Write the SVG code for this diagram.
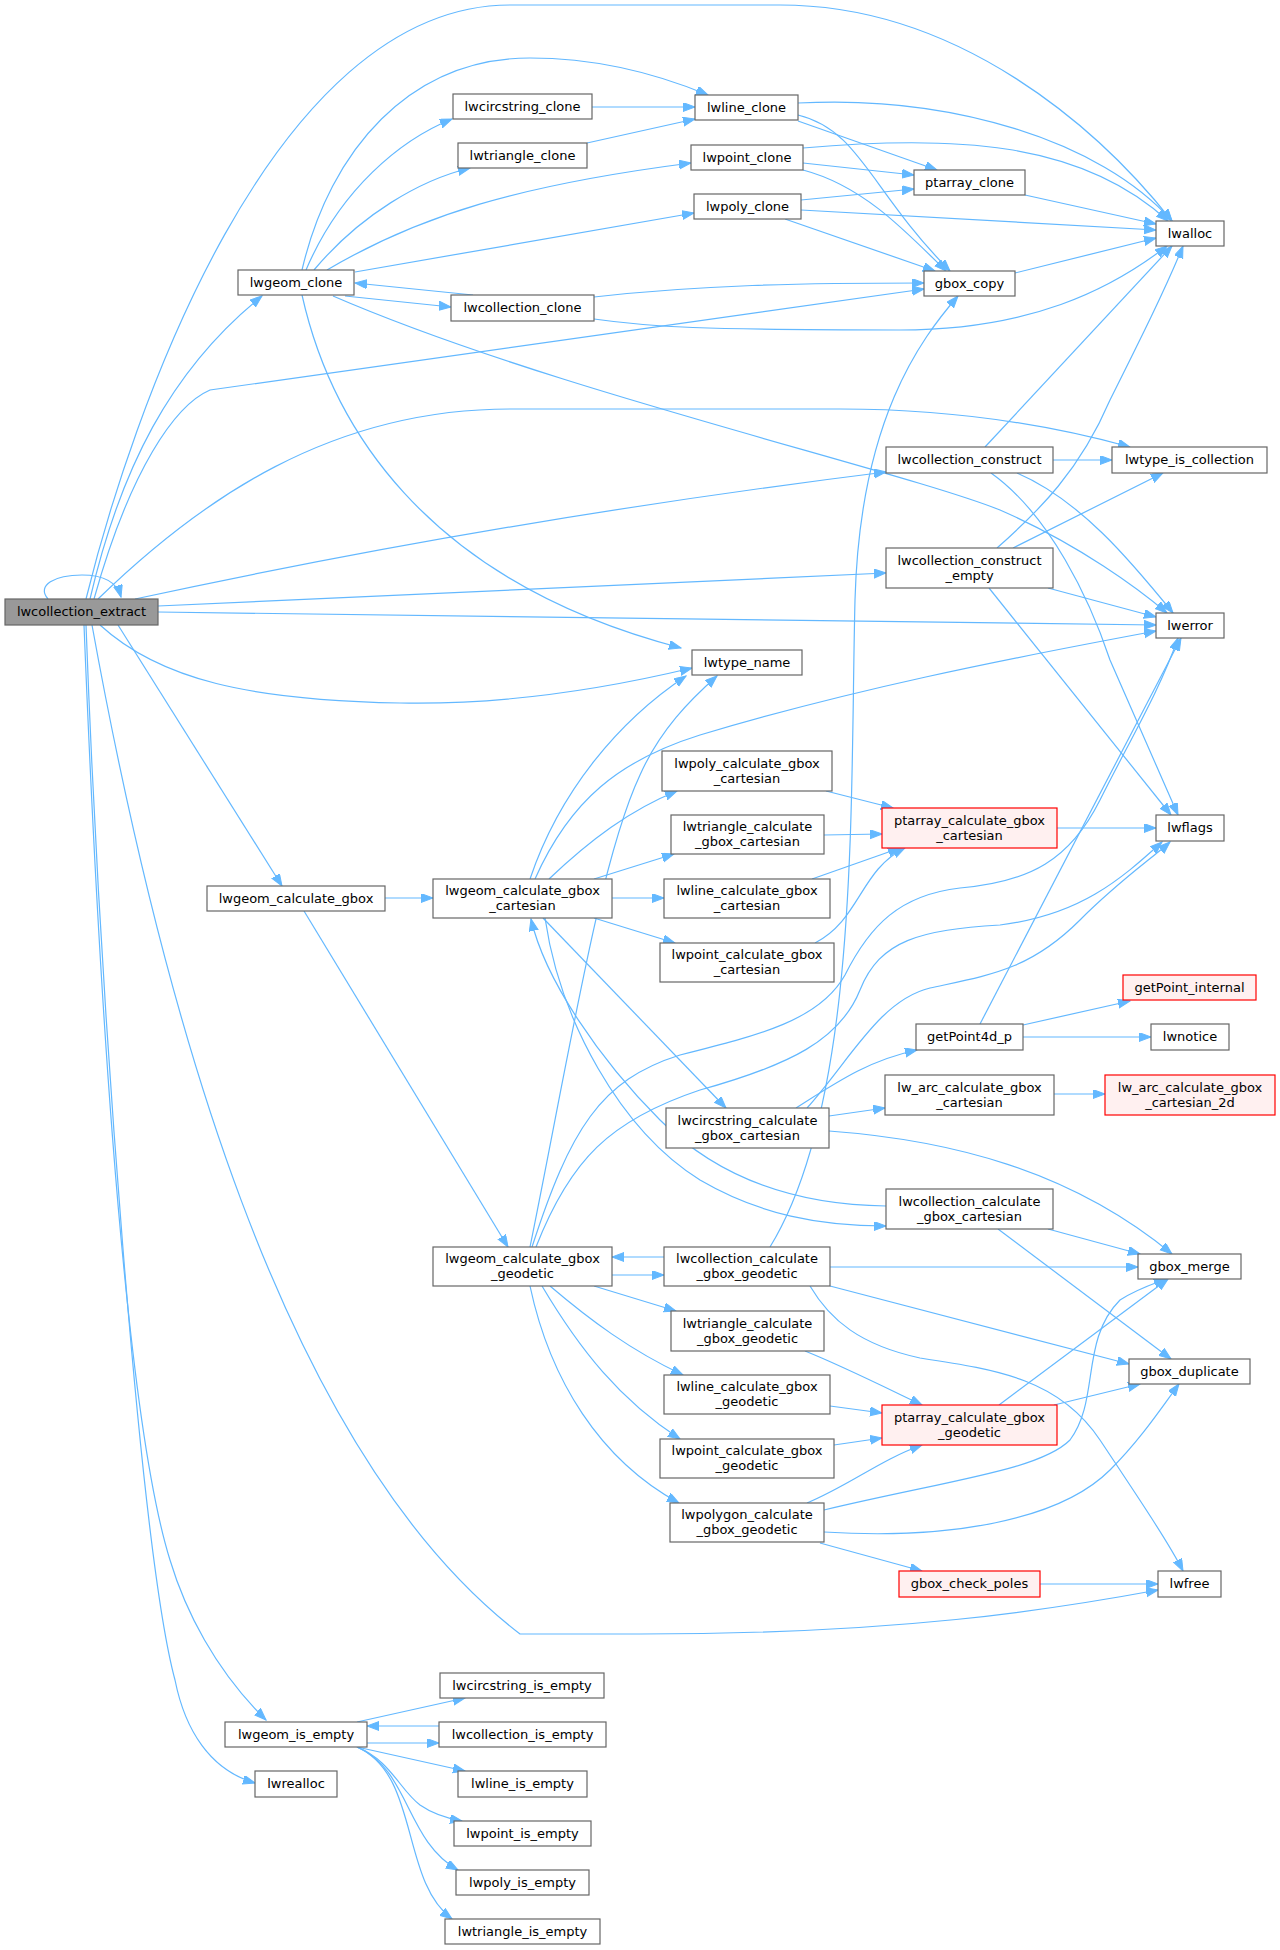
<svg xmlns="http://www.w3.org/2000/svg" width="1280" height="1950" viewBox="0 0 1280 1950">
<style>
.n rect{fill:#ffffff;stroke:#666666;stroke-width:1.2}
.n.root rect{fill:#999999}
.n.red rect{fill:#fff0f0;stroke:#ff0000}
.n text{font-family:"DejaVu Sans",sans-serif;font-size:13px;fill:#000000;text-anchor:middle}
.e path{fill:none;stroke:#63b8ff;stroke-width:1.2;marker-end:url(#ah)}
</style>
<defs>
<marker id="ah" markerUnits="userSpaceOnUse" markerWidth="13" markerHeight="10" refX="12" refY="4.5" orient="auto">
<path d="M0,0 L12,4.5 L0,9 z" fill="#63b8ff" stroke="#63b8ff" stroke-width="1"/>
</marker>
</defs>
<rect width="1280" height="1950" fill="#ffffff"/>
<g class="e" id="edges">
<path d="M48,599 C36,585 55,575 82,575 C104,575 117,582 121,597"/>
<path d="M86,599 C130,420 270,5 510,5 L780,5 C960,5 1100,130 1172,221"/>
<path d="M90,599 C120,470 170,370 262,296"/>
<path d="M94,599 C130,470 175,405 210,390 L924,289"/>
<path d="M98,599 C200,500 330,409 510,409 L840,409 C950,409 1050,425 1130,447"/>
<path d="M135,599 Q500,520 886,472"/>
<path d="M158,606 L886,573"/>
<path d="M158,612 L1156,625"/>
<path d="M100,625 C160,680 250,700 400,703 C500,705 600,690 692,668"/>
<path d="M118,625 L282,886"/>
<path d="M92,625 C160,1000 280,1450 520,1634 L640,1634 C900,1634 1050,1610 1158,1590"/>
<path d="M84,625 C95,900 120,1400 170,1560 C185,1610 215,1670 266,1720"/>
<path d="M86,625 C100,1000 140,1550 175,1680 C185,1730 210,1770 255,1783"/>
<path d="M306,270 C340,190 400,140 452,119"/>
<path d="M314,270 C360,215 420,180 470,168"/>
<path d="M302,270 C330,150 410,58 530,58 C600,58 660,75 708,95"/>
<path d="M327,270 C420,215 520,185 691,163"/>
<path d="M355,272 L694,213"/>
<path d="M345,296 L451,307"/>
<path d="M473,295 L355,283"/>
<path d="M302,295 C330,420 420,580 681,648"/>
<path d="M333,296 C550,390 900,470 1000,510 C1080,545 1140,590 1167,613"/>
<path d="M592,107 L695,107"/>
<path d="M587,143 L695,119"/>
<path d="M798,103 C950,95 1100,140 1172,221"/>
<path d="M798,121 L937,170"/>
<path d="M798,115 C860,130 870,190 950,271"/>
<path d="M803,148 C950,135 1080,140 1168,221"/>
<path d="M803,163 L914,175"/>
<path d="M803,170 C860,185 900,225 946,271"/>
<path d="M801,200 L914,189"/>
<path d="M801,210 L1156,230"/>
<path d="M785,219 L935,271"/>
<path d="M1025,195 L1156,224"/>
<path d="M1015,273 L1156,238"/>
<path d="M594,297 C700,285 800,283 924,283"/>
<path d="M594,319 C650,327 700,330 900,330 C1030,330 1110,290 1167,246"/>
<path d="M985,447 L1172,246"/>
<path d="M1053,460 L1112,460"/>
<path d="M1017,473 C1080,500 1130,560 1173,613"/>
<path d="M991,473 C1050,515 1090,600 1110,660 L1178,815"/>
<path d="M997,548 C1040,510 1080,470 1110,400 C1140,340 1165,290 1183,246"/>
<path d="M1013,548 L1163,473"/>
<path d="M1048,588 L1156,617"/>
<path d="M989,588 L1171,815"/>
<path d="M385,898 L433,898"/>
<path d="M304,911 L508,1247"/>
<path d="M530,879 C560,790 620,720 686,676"/>
<path d="M535,879 C570,800 620,760 700,735 C850,690 1000,660 1156,631"/>
<path d="M549,879 C590,840 630,810 677,791"/>
<path d="M594,879 L674,854"/>
<path d="M612,898 L664,898"/>
<path d="M594,918 L675,943"/>
<path d="M543,918 L726,1108"/>
<path d="M545,918 C560,1020 620,1130 700,1180 C760,1215 820,1226 886,1226"/>
<path d="M886,1206 C800,1205 720,1180 660,1120 C600,1060 545,980 531,919"/>
<path d="M826,791 L893,808"/>
<path d="M824,835 L882,834"/>
<path d="M812,879 L900,848"/>
<path d="M815,943 C860,920 860,870 905,848"/>
<path d="M1057,828 L1156,828"/>
<path d="M530,1247 C570,1050 600,860 640,775 C660,730 690,700 717,676"/>
<path d="M532,1247 C570,1130 600,1080 680,1055 C760,1035 820,1020 845,975 C870,925 900,895 960,888 C1030,882 1070,860 1100,800 C1130,740 1160,690 1178,638"/>
<path d="M536,1247 C570,1160 610,1120 700,1090 C790,1065 840,1040 860,990 C880,940 920,930 1000,925 C1080,915 1120,880 1162,842"/>
<path d="M807,1108 C850,1060 880,1000 930,988 C990,975 1030,970 1080,920 C1120,880 1150,860 1170,842"/>
<path d="M796,1108 C840,1080 870,1060 917,1050"/>
<path d="M829,1116 L885,1108"/>
<path d="M829,1131 C950,1140 1070,1170 1172,1254"/>
<path d="M1023,1025 L1130,1001"/>
<path d="M1023,1037 L1151,1037"/>
<path d="M980,1024 L1181,638"/>
<path d="M1054,1094 L1105,1094"/>
<path d="M1048,1229 L1140,1254"/>
<path d="M998,1229 L1171,1359"/>
<path d="M664,1257 L612,1257"/>
<path d="M612,1275 L664,1275"/>
<path d="M770,1247 C860,1100 850,800 855,600 C860,420 920,340 958,296"/>
<path d="M830,1267 L1138,1267"/>
<path d="M830,1286 L1129,1364"/>
<path d="M810,1286 C830,1320 860,1345 920,1358 C1000,1370 1060,1380 1100,1440 C1140,1500 1170,1545 1183,1571"/>
<path d="M594,1286 L676,1311"/>
<path d="M550,1286 C590,1320 630,1350 683,1375"/>
<path d="M542,1286 C580,1350 620,1400 680,1439"/>
<path d="M530,1286 C550,1380 600,1460 679,1503"/>
<path d="M805,1351 C840,1365 870,1380 922,1405"/>
<path d="M830,1406 L882,1413"/>
<path d="M834,1445 L882,1438"/>
<path d="M807,1503 C850,1485 880,1460 922,1445"/>
<path d="M824,1510 C950,1480 1040,1470 1070,1440 C1100,1400 1080,1340 1120,1300 C1135,1290 1150,1285 1166,1279"/>
<path d="M824,1532 C950,1540 1060,1520 1110,1470 C1140,1440 1160,1410 1179,1384"/>
<path d="M820,1543 L922,1571"/>
<path d="M1040,1584 L1158,1584"/>
<path d="M999,1405 L1168,1279"/>
<path d="M1054,1405 L1140,1384"/>
<path d="M357,1722 L465,1698"/>
<path d="M439,1726 L367,1726"/>
<path d="M367,1743 L439,1743"/>
<path d="M357,1747 L465,1771"/>
<path d="M357,1747 C390,1760 400,1790 420,1805 C430,1812 445,1818 462,1821"/>
<path d="M357,1747 C410,1770 405,1840 458,1870"/>
<path d="M357,1747 C420,1775 400,1880 452,1919"/>
</g>
<g class="n root" id="n_lwcollection_extract"><rect x="5" y="599" width="153" height="26"/><text x="81.5" y="616">lwcollection_extract</text></g>
<g class="n" id="n_lwgeom_clone"><rect x="238" y="270" width="116" height="25"/><text x="296" y="287">lwgeom_clone</text></g>
<g class="n" id="n_lwcircstring_clone"><rect x="453" y="94" width="139" height="25"/><text x="522.5" y="111">lwcircstring_clone</text></g>
<g class="n" id="n_lwtriangle_clone"><rect x="458" y="143" width="129" height="25"/><text x="522.5" y="160">lwtriangle_clone</text></g>
<g class="n" id="n_lwcollection_clone"><rect x="451" y="295" width="143" height="26"/><text x="522.5" y="312">lwcollection_clone</text></g>
<g class="n" id="n_lwline_clone"><rect x="695" y="95" width="103" height="25"/><text x="746.5" y="112">lwline_clone</text></g>
<g class="n" id="n_lwpoint_clone"><rect x="691" y="145" width="112" height="25"/><text x="747" y="162">lwpoint_clone</text></g>
<g class="n" id="n_lwpoly_clone"><rect x="694" y="194" width="107" height="25"/><text x="747.5" y="211">lwpoly_clone</text></g>
<g class="n" id="n_ptarray_clone"><rect x="914" y="170" width="111" height="25"/><text x="969.5" y="187">ptarray_clone</text></g>
<g class="n" id="n_lwalloc"><rect x="1156" y="221" width="68" height="25"/><text x="1190" y="238">lwalloc</text></g>
<g class="n" id="n_gbox_copy"><rect x="924" y="271" width="91" height="25"/><text x="969.5" y="288">gbox_copy</text></g>
<g class="n" id="n_lwcollection_construct"><rect x="886" y="447" width="167" height="26"/><text x="969.5" y="464">lwcollection_construct</text></g>
<g class="n" id="n_lwtype_is_collection"><rect x="1112" y="447" width="155" height="26"/><text x="1189.5" y="464">lwtype_is_collection</text></g>
<g class="n" id="n_lwcollection_construct_empty"><rect x="886" y="548" width="167" height="40"/><text x="969.5" y="565">lwcollection_construct</text><text x="969.5" y="580">_empty</text></g>
<g class="n" id="n_lwerror"><rect x="1156" y="613" width="68" height="25"/><text x="1190" y="630">lwerror</text></g>
<g class="n" id="n_lwtype_name"><rect x="692" y="650" width="110" height="25"/><text x="747" y="667">lwtype_name</text></g>
<g class="n" id="n_lwgeom_calculate_gbox"><rect x="207" y="886" width="178" height="25"/><text x="296" y="903">lwgeom_calculate_gbox</text></g>
<g class="n" id="n_lwgeom_calculate_gbox_cartesian"><rect x="433" y="879" width="179" height="39"/><text x="522.5" y="895">lwgeom_calculate_gbox</text><text x="522.5" y="910">_cartesian</text></g>
<g class="n" id="n_lwpoly_calculate_gbox_cartesian"><rect x="662" y="751" width="170" height="40"/><text x="747" y="768">lwpoly_calculate_gbox</text><text x="747" y="783">_cartesian</text></g>
<g class="n" id="n_lwtriangle_calculate_gbox_cartesian"><rect x="671" y="815" width="153" height="39"/><text x="747.5" y="831">lwtriangle_calculate</text><text x="747.5" y="846">_gbox_cartesian</text></g>
<g class="n" id="n_lwline_calculate_gbox_cartesian"><rect x="664" y="879" width="166" height="39"/><text x="747" y="895">lwline_calculate_gbox</text><text x="747" y="910">_cartesian</text></g>
<g class="n" id="n_lwpoint_calculate_gbox_cartesian"><rect x="660" y="943" width="174" height="39"/><text x="747" y="959">lwpoint_calculate_gbox</text><text x="747" y="974">_cartesian</text></g>
<g class="n red" id="n_ptarray_calculate_gbox_cartesian"><rect x="882" y="808" width="175" height="40"/><text x="969.5" y="825">ptarray_calculate_gbox</text><text x="969.5" y="840">_cartesian</text></g>
<g class="n" id="n_lwflags"><rect x="1156" y="815" width="68" height="26"/><text x="1190" y="832">lwflags</text></g>
<g class="n red" id="n_getPoint_internal"><rect x="1123" y="975" width="133" height="25"/><text x="1189.5" y="992">getPoint_internal</text></g>
<g class="n" id="n_getPoint4d_p"><rect x="916" y="1024" width="107" height="26"/><text x="969.5" y="1041">getPoint4d_p</text></g>
<g class="n" id="n_lwnotice"><rect x="1151" y="1024" width="78" height="26"/><text x="1190" y="1041">lwnotice</text></g>
<g class="n" id="n_lw_arc_calculate_gbox_cartesian"><rect x="885" y="1075" width="169" height="40"/><text x="969.5" y="1092">lw_arc_calculate_gbox</text><text x="969.5" y="1107">_cartesian</text></g>
<g class="n red" id="n_lw_arc_calculate_gbox_cartesian_2d"><rect x="1105" y="1075" width="170" height="40"/><text x="1190" y="1092">lw_arc_calculate_gbox</text><text x="1190" y="1107">_cartesian_2d</text></g>
<g class="n" id="n_lwcircstring_calculate_gbox_cartesian"><rect x="666" y="1108" width="163" height="40"/><text x="747.5" y="1125">lwcircstring_calculate</text><text x="747.5" y="1140">_gbox_cartesian</text></g>
<g class="n" id="n_lwcollection_calculate_gbox_cartesian"><rect x="886" y="1189" width="167" height="40"/><text x="969.5" y="1206">lwcollection_calculate</text><text x="969.5" y="1221">_gbox_cartesian</text></g>
<g class="n" id="n_lwgeom_calculate_gbox_geodetic"><rect x="433" y="1247" width="179" height="39"/><text x="522.5" y="1263">lwgeom_calculate_gbox</text><text x="522.5" y="1278">_geodetic</text></g>
<g class="n" id="n_lwcollection_calculate_gbox_geodetic"><rect x="664" y="1247" width="166" height="39"/><text x="747" y="1263">lwcollection_calculate</text><text x="747" y="1278">_gbox_geodetic</text></g>
<g class="n" id="n_gbox_merge"><rect x="1138" y="1254" width="103" height="25"/><text x="1189.5" y="1271">gbox_merge</text></g>
<g class="n" id="n_lwtriangle_calculate_gbox_geodetic"><rect x="671" y="1311" width="153" height="40"/><text x="747.5" y="1328">lwtriangle_calculate</text><text x="747.5" y="1343">_gbox_geodetic</text></g>
<g class="n" id="n_gbox_duplicate"><rect x="1129" y="1359" width="121" height="25"/><text x="1189.5" y="1376">gbox_duplicate</text></g>
<g class="n" id="n_lwline_calculate_gbox_geodetic"><rect x="664" y="1375" width="166" height="39"/><text x="747" y="1391">lwline_calculate_gbox</text><text x="747" y="1406">_geodetic</text></g>
<g class="n red" id="n_ptarray_calculate_gbox_geodetic"><rect x="882" y="1405" width="175" height="40"/><text x="969.5" y="1422">ptarray_calculate_gbox</text><text x="969.5" y="1437">_geodetic</text></g>
<g class="n" id="n_lwpoint_calculate_gbox_geodetic"><rect x="660" y="1439" width="174" height="39"/><text x="747" y="1455">lwpoint_calculate_gbox</text><text x="747" y="1470">_geodetic</text></g>
<g class="n" id="n_lwpolygon_calculate_gbox_geodetic"><rect x="670" y="1503" width="154" height="39"/><text x="747" y="1519">lwpolygon_calculate</text><text x="747" y="1534">_gbox_geodetic</text></g>
<g class="n red" id="n_gbox_check_poles"><rect x="899" y="1571" width="141" height="26"/><text x="969.5" y="1588">gbox_check_poles</text></g>
<g class="n" id="n_lwfree"><rect x="1158" y="1571" width="63" height="26"/><text x="1189.5" y="1588">lwfree</text></g>
<g class="n" id="n_lwgeom_is_empty"><rect x="225" y="1722" width="142" height="25"/><text x="296" y="1739">lwgeom_is_empty</text></g>
<g class="n" id="n_lwcircstring_is_empty"><rect x="440" y="1673" width="164" height="25"/><text x="522" y="1690">lwcircstring_is_empty</text></g>
<g class="n" id="n_lwcollection_is_empty"><rect x="439" y="1722" width="167" height="25"/><text x="522.5" y="1739">lwcollection_is_empty</text></g>
<g class="n" id="n_lwrealloc"><rect x="255" y="1771" width="82" height="26"/><text x="296" y="1788">lwrealloc</text></g>
<g class="n" id="n_lwline_is_empty"><rect x="458" y="1771" width="129" height="26"/><text x="522.5" y="1788">lwline_is_empty</text></g>
<g class="n" id="n_lwpoint_is_empty"><rect x="454" y="1821" width="137" height="25"/><text x="522.5" y="1838">lwpoint_is_empty</text></g>
<g class="n" id="n_lwpoly_is_empty"><rect x="456" y="1870" width="133" height="25"/><text x="522.5" y="1887">lwpoly_is_empty</text></g>
<g class="n" id="n_lwtriangle_is_empty"><rect x="445" y="1919" width="155" height="25"/><text x="522.5" y="1936">lwtriangle_is_empty</text></g>
</svg>
